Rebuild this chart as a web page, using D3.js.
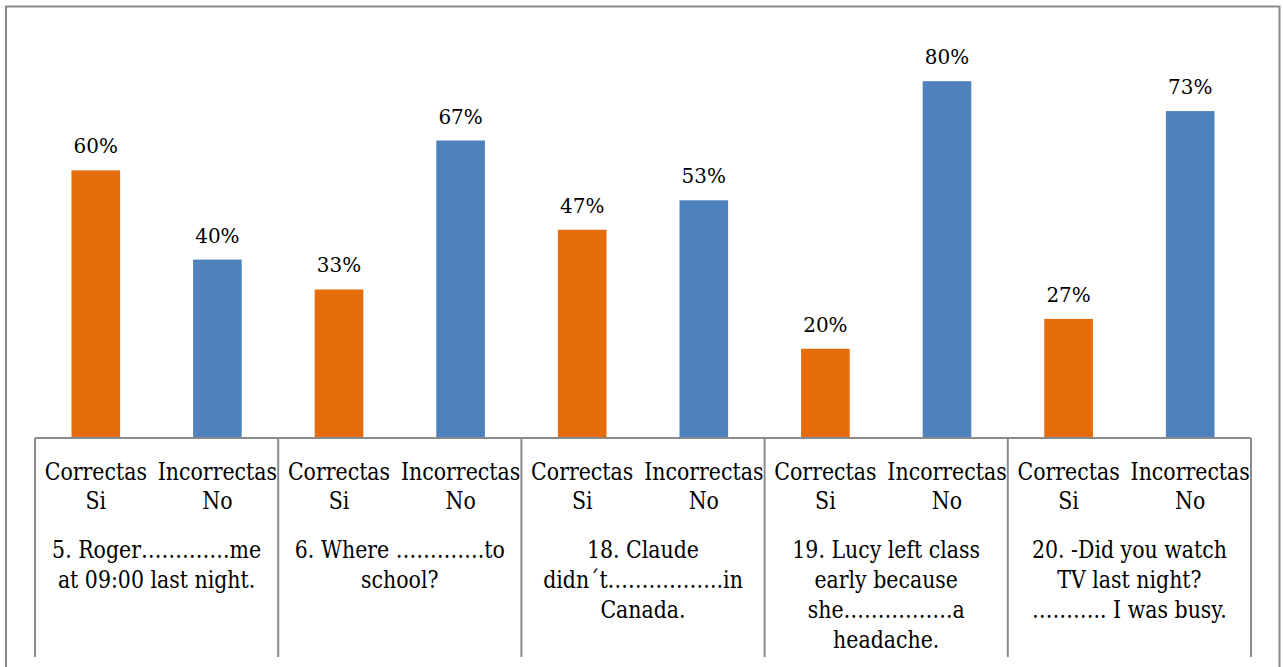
<!DOCTYPE html>
<html>
<head>
<meta charset="utf-8">
<script src="https://cdn.jsdelivr.net/npm/d3@7"></script>
<style>
  html, body { margin: 0; padding: 0; background: #fff; }
  svg { display: block; }
</style>
</head>
<body>
<svg id="chart" width="1283" height="667" font-family="'DejaVu Serif', serif"></svg>
<script>
// ---- data ----
const questions = [
  ["5. Roger………….me", "at 09:00 last night."],
  ["6. Where ………….to", "school?"],
  ["18. Claude", "didn´t……………..in", "Canada."],
  ["19. Lucy left class", "early because", "she…………….a", "headache."],
  ["20. -Did you watch", "TV last night?", "……….. I was busy."]
];
const seriesNames = ["Correctas Si", "Incorrectas No"];
const seriesLines = [["Correctas", "Si"], ["Incorrectas", "No"]];
const correctas = [60, 33.3, 46.7, 20, 26.7];
const incorrectas = [40, 66.7, 53.3, 80, 73.3];
const colors = ["#E46C0A", "#4F81BD"];

// ---- layout ----
const svg = d3.select("#chart");
const x0 = d3.scaleBand().domain(d3.range(questions.length)).range([35, 1251]).padding(0);
const x1 = d3.scalePoint().domain(seriesNames).range([0, x0.bandwidth()]).padding(0.5);
const barW = x1.step() * 0.4;
const y = d3.scaleLinear().domain([0, 100]).range([438, -8]);

// outer frame
svg.append("rect")
  .attr("x", 6).attr("y", 6.5).attr("width", 1273.5).attr("height", 720)
  .attr("fill", "none").attr("stroke", "#8a8a8a").attr("stroke-width", 2);

const rows = questions.map((q, i) => ({i, vals: [correctas[i], incorrectas[i]]}));

// serif text condensed horizontally to approximate Times proportions
function label(parent, cx, yBase, lines, size, lh, sx) {
  const gg = parent.append("g").attr("transform", `translate(${cx},0) scale(${sx},1)`);
  const t = gg.append("text").attr("x", 0).attr("y", yBase)
    .attr("text-anchor", "middle").attr("font-size", size).attr("fill", "#000");
  lines.forEach((ln, j) => t.append("tspan").attr("x", 0).attr("dy", j === 0 ? 0 : lh).text(ln));
}

const g = svg.append("g");
rows.forEach(r => {
  r.vals.forEach((v, k) => {
    const cx = x0(r.i) + x1(seriesNames[k]);
    g.append("rect")
      .attr("x", cx - barW / 2).attr("y", y(v))
      .attr("width", barW).attr("height", y(0) - y(v))
      .attr("fill", colors[k]);
    label(g, cx, y(v) - 17, [Math.round(v) + "%"], 20.6, 0, 0.97);
  });
});

// axis / category table
const axisColor = "#8a8a8a";
svg.append("line")
  .attr("x1", x0.range()[0]).attr("x2", x0.range()[1])
  .attr("y1", y(0)).attr("y2", y(0))
  .attr("stroke", axisColor).attr("stroke-width", 2);

const bounds = d3.range(questions.length).map(i => x0(i)).concat([x0.range()[1]]);
svg.selectAll("line.sep").data(bounds).join("line")
  .attr("class", "sep")
  .attr("x1", d => d).attr("x2", d => d)
  .attr("y1", y(0)).attr("y2", 657)
  .attr("stroke", axisColor).attr("stroke-width", 2);

questions.forEach((q, i) => {
  seriesNames.forEach((s, k) => {
    label(svg, x0(i) + x1(s), 480, seriesLines[k], 23.3, 29, 0.88);
  });
  label(svg, x0(i) + x0.bandwidth() / 2, 558, q, 23.3, 30, 0.88);
});
</script>
</body>
</html>
